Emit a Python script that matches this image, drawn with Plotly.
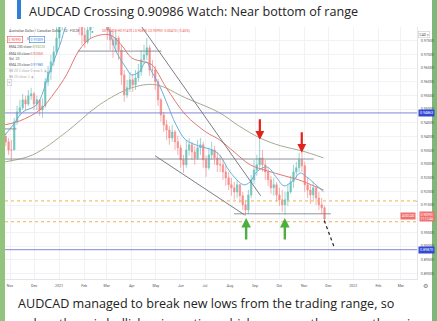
import pandas as pd
import plotly.graph_objects as go

W, H = 437, 321

# ---------------- data (AUDCAD, two bars per week, Oct 2020 - Nov 2021) ----------------
first_open = 0.9400
closes = [
    0.9381, 0.9351,  # Oct 26
    0.9351, 0.9454,  # Nov 2
    0.9490, 0.9505,
    0.9534, 0.9519,
    0.9549, 0.9556,
    0.9519, 0.9534,  # Nov 30
    0.9497, 0.9512,
    0.9600, 0.9636,
    0.9673, 0.9709,
    0.9760, 0.9826,  # Dec 28
    0.9862, 0.9881,
    0.9917, 0.9899,
    0.9881, 0.9862,
    0.9826, 0.9771,  # Jan 25
    0.9746, 0.9789,
    0.9819, 0.9844,
    0.9881, 0.9899,
    0.9936, 0.9844,  # Feb 22
    0.9789, 0.9753,
    0.9735, 0.9760,
    0.9716, 0.9625,
    0.9552, 0.9578,
    0.9607, 0.9589,  # Mar 29
    0.9614, 0.9636,
    0.9680, 0.9698,
    0.9724, 0.9643,
    0.9643, 0.9600,  # Apr 26
    0.9534, 0.9479,
    0.9443, 0.9424,
    0.9395, 0.9417,
    0.9381, 0.9359,
    0.9315, 0.9297,  # May 31
    0.9351, 0.9370,
    0.9344, 0.9322,
    0.9359, 0.9370,
    0.9315, 0.9286,  # Jun 28
    0.9333, 0.9351,
    0.9322, 0.9297,
    0.9297, 0.9271,
    0.9249, 0.9224,  # Jul 26
    0.9213, 0.9198,
    0.9224, 0.9184,
    0.9151, 0.9132,
    0.9187, 0.9242,
    0.9278, 0.9297,  # Aug 30
    0.9322, 0.9297,
    0.9271, 0.9242,
    0.9213, 0.9224,
    0.9187, 0.9169,  # Sep 27
    0.9151, 0.9169,
    0.9198, 0.9235,
    0.9271, 0.9286,
    0.9315, 0.9293,  # Oct 25
    0.9224, 0.9205,
    0.9187, 0.9213,
    0.9176, 0.9151,
    0.9140, 0.9099,  # Nov 22
]
highs = [
    0.9414, 0.9395,
    0.9388, 0.9468,
    0.9512, 0.9534,
    0.9556, 0.9549,
    0.9570, 0.9578,
    0.9563, 0.9549,
    0.9534, 0.9541,
    0.9614, 0.9658,
    0.9698, 0.9731,
    0.9808, 0.9862,
    0.9899, 0.9917,
    0.9954, 0.9936,
    0.9928, 0.9899,
    0.9881, 0.9844,
    0.9797, 0.9826,
    0.9862, 0.9881,
    0.9936, 0.9943,
    0.9972, 0.9954,
    0.9855, 0.9808,
    0.9782, 0.9789,
    0.9768, 0.9735,
    0.9643, 0.9607,
    0.9636, 0.9629,
    0.9643, 0.9665,
    0.9716, 0.9735,
    0.9760, 0.9735,
    0.9680, 0.9658,
    0.9610, 0.9541,
    0.9490, 0.9461,
    0.9439, 0.9443,
    0.9424, 0.9403,
    0.9370, 0.9333,
    0.9388, 0.9395,
    0.9381, 0.9366,
    0.9388, 0.9395,
    0.9381, 0.9330,
    0.9359, 0.9381,
    0.9366, 0.9344,
    0.9333, 0.9315,
    0.9293, 0.9271,
    0.9249, 0.9235,
    0.9242, 0.9227,
    0.9198, 0.9169,
    0.9205, 0.9260,
    0.9315, 0.9333,
    0.9388, 0.9351,
    0.9315, 0.9286,
    0.9257, 0.9249,
    0.9235, 0.9213,
    0.9205, 0.9198,
    0.9227, 0.9257,
    0.9297, 0.9308,
    0.9341, 0.9344,
    0.9308, 0.9249,
    0.9224, 0.9235,
    0.9220, 0.9198,
    0.9176, 0.9147,
]
lows = [
    0.9366, 0.9333,
    0.9308, 0.9351,
    0.9443, 0.9476,
    0.9497, 0.9497,
    0.9512, 0.9534,
    0.9497, 0.9497,
    0.9476, 0.9468,
    0.9505, 0.9585,
    0.9607, 0.9658,
    0.9698, 0.9735,
    0.9789, 0.9826,
    0.9855, 0.9844,
    0.9833, 0.9819,
    0.9771, 0.9735,
    0.9724, 0.9738,
    0.9760, 0.9797,
    0.9826, 0.9844,
    0.9881, 0.9808,
    0.9753, 0.9716,
    0.9687, 0.9709,
    0.9680, 0.9589,
    0.9527, 0.9541,
    0.9563, 0.9563,
    0.9570, 0.9600,
    0.9622, 0.9665,
    0.9680, 0.9622,
    0.9614, 0.9570,
    0.9512, 0.9454,
    0.9417, 0.9388,
    0.9370, 0.9381,
    0.9351, 0.9333,
    0.9286, 0.9267,
    0.9286, 0.9330,
    0.9315, 0.9297,
    0.9315, 0.9333,
    0.9286, 0.9253,
    0.9278, 0.9315,
    0.9297, 0.9271,
    0.9271, 0.9242,
    0.9220, 0.9205,
    0.9184, 0.9169,
    0.9176, 0.9158,
    0.9132, 0.9111,
    0.9118, 0.9176,
    0.9227, 0.9257,
    0.9286, 0.9271,
    0.9242, 0.9220,
    0.9191, 0.9184,
    0.9162, 0.9147,
    0.9125, 0.9114,
    0.9147, 0.9191,
    0.9213, 0.9249,
    0.9271, 0.9271,
    0.9198, 0.9176,
    0.9154, 0.9169,
    0.9151, 0.9132,
    0.9118, 0.9089,
]

ema200_dates = ["2020-10-26", "2020-11-29", "2021-01-10", "2021-02-20", "2021-04-01", "2021-05-01",
                "2021-06-07", "2021-07-19", "2021-08-12", "2021-09-07", "2021-10-03", "2021-10-29", "2021-11-25"]
ema200_vals = [0.9308, 0.9333, 0.9417, 0.9516, 0.9578, 0.9589, 0.9541, 0.9487, 0.9439, 0.9395, 0.9366, 0.9348, 0.9322]

ema50_dates = ["2020-10-26", "2020-11-13", "2020-12-08", "2020-12-27", "2021-01-10", "2021-01-26", "2021-02-10",
               "2021-03-05", "2021-03-19", "2021-04-01", "2021-04-16", "2021-04-26", "2021-05-14", "2021-06-07",
               "2021-07-02", "2021-07-19", "2021-08-06", "2021-08-26", "2021-09-16", "2021-10-07", "2021-10-25",
               "2021-11-13", "2021-11-25"]
ema50_vals = [0.9443, 0.9457, 0.9497, 0.9563, 0.9625, 0.9716, 0.9760, 0.9771, 0.9735, 0.9687, 0.9673, 0.9662,
              0.9578, 0.9479, 0.9417, 0.9388, 0.9344, 0.9297, 0.9275, 0.9257, 0.9242, 0.9220, 0.9205]

ema20_dates = ["2020-10-26", "2020-11-05", "2020-11-17", "2020-12-04", "2020-12-20", "2021-01-02", "2021-01-10",
               "2021-01-20", "2021-02-02", "2021-02-14", "2021-02-28", "2021-03-05", "2021-03-13", "2021-03-25",
               "2021-04-01", "2021-04-10", "2021-04-19", "2021-04-26", "2021-05-05", "2021-05-14", "2021-05-26",
               "2021-06-07", "2021-06-23", "2021-07-10", "2021-07-19", "2021-08-01", "2021-08-18", "2021-08-26",
               "2021-09-03", "2021-09-16", "2021-09-28", "2021-10-07", "2021-10-19", "2021-10-27", "2021-11-04",
               "2021-11-17", "2021-11-25"]
ema20_vals = [0.9406, 0.9443, 0.9490, 0.9516, 0.9636, 0.9735, 0.9808, 0.9855, 0.9826, 0.9855, 0.9819, 0.9779,
              0.9709, 0.9651, 0.9625, 0.9636, 0.9673, 0.9636, 0.9589, 0.9527, 0.9443, 0.9388, 0.9366, 0.9351,
              0.9333, 0.9271, 0.9224, 0.9235, 0.9271, 0.9289, 0.9249, 0.9220, 0.9242, 0.9267, 0.9253, 0.9220, 0.9198]

x_tick_dates = ["2020-11-01", "2020-12-01", "2021-01-01", "2021-02-01", "2021-03-01", "2021-04-01",
                "2021-05-01", "2021-06-01", "2021-07-01", "2021-08-01", "2021-09-01", "2021-10-01",
                "2021-11-01", "2021-12-01", "2022-01-01", "2022-02-01", "2022-03-01"]
x_tick_labels = ["Nov", "Dec", "2021", "Feb", "Mar", "Apr", "May", "Jun", "Jul", "Aug", "Sep", "Oct",
                 "Nov", "Dec", "2022", "Feb", "Mar"]
y_tick_vals = [0.975, 0.970, 0.965, 0.960, 0.955, 0.950, 0.945, 0.940, 0.935, 0.930,
               0.925, 0.920, 0.915, 0.910, 0.905, 0.900, 0.895, 0.890]
y_tick_labels = [f"{v:.5f}" for v in y_tick_vals]

x_range = ["2020-10-25 19:00", "2022-03-21"]
y_range = [0.8880, 0.9800]

# drawn levels and tools
range_top = 0.94863
range_target = 0.89870
support_level = 0.9118
mid_level = 0.9318
feb_level = 0.9712
nov_level = 0.9428
orange_levels = [0.9165, 0.9089]
upper_trend = ["2021-04-10", 0.9815, "2021-09-08", 0.9184]
lower_trend = ["2021-04-30", 0.9330, "2021-08-19", 0.9114]
support_span = ["2021-08-06", "2021-12-04"]
mid_span = ["2020-10-25", "2021-11-13"]
feb_span = ["2021-01-24", "2021-05-08"]
nov_span = ["2020-10-25", "2020-11-09"]
red_arrow_tips = [("2021-09-07", 0.9388), ("2021-10-29", 0.9341)]
green_arrow_tips = [("2021-08-21", 0.9103), ("2021-10-08", 0.9103)]
projection = ["2021-11-26", 0.9093, "2021-12-08", 0.8998]
ask_price = 0.91009

# ---------------- figure ----------------
opens = [first_open] + closes[:-1]
highs_c = [max(h, o, c) for h, o, c in zip(highs, opens, closes)]
lows_c = [min(l, o, c) for l, o, c in zip(lows, opens, closes)]
mondays = pd.date_range("2020-10-26", periods=len(closes) // 2, freq="7D")
dates = []
for m in mondays:
    dates.append(m + pd.Timedelta(hours=18))
    dates.append(m + pd.Timedelta(hours=102))

UP, DN = "#26a69a", "#ef5350"
fig = go.Figure()
fig.add_trace(go.Candlestick(
    x=dates, open=opens, high=highs_c, low=lows_c, close=closes,
    increasing=dict(line=dict(color=UP, width=0.7), fillcolor=UP),
    decreasing=dict(line=dict(color=DN, width=0.7), fillcolor=DN),
    opacity=0.65, whiskerwidth=0, showlegend=False, hoverinfo="skip"))
for dts, vals, col in [(ema200_dates, ema200_vals, "#a8aa90"),
                       (ema50_dates, ema50_vals, "#e07a74"),
                       (ema20_dates, ema20_vals, "#6aaede")]:
    fig.add_trace(go.Scatter(x=dts, y=vals, mode="lines", line=dict(color=col, width=1, shape="spline", smoothing=1.0),
                             showlegend=False, hoverinfo="skip"))


def px(x):
    return x / W


def py(y):
    return 1 - y / H


shapes = []
# page background strips
shapes.append(dict(type="rect", xref="paper", yref="paper", x0=0, x1=px(5), y0=0, y1=1,
                   fillcolor="#93c47d", line_width=0, layer="below"))
shapes.append(dict(type="rect", xref="paper", yref="paper", x0=px(432), x1=1, y0=0, y1=1,
                   fillcolor="#7fb77a", line_width=0, layer="below"))
# title bar
shapes.append(dict(type="rect", xref="paper", yref="paper", x0=px(17), x1=px(21), y0=py(19), y1=1,
                   fillcolor="#2f7fd6", line_width=0))
# horizontal levels
for lv, col in [(range_top, "#8686d8"), (range_target, "#8686d8")]:
    shapes.append(dict(type="line", xref="x", yref="y", x0=x_range[0], x1=x_range[1], y0=lv, y1=lv,
                       line=dict(color=col, width=1)))
for lv in orange_levels:
    shapes.append(dict(type="line", xref="x", yref="y", x0=x_range[0], x1=x_range[1], y0=lv, y1=lv,
                       line=dict(color="#f2b04f", width=1, dash="dot")))
for span, lv in [(support_span, support_level), (mid_span, mid_level), (feb_span, feb_level), (nov_span, nov_level)]:
    shapes.append(dict(type="line", xref="x", yref="y", x0=span[0], x1=span[1], y0=lv, y1=lv,
                       line=dict(color="#858790", width=0.9)))
for t in [upper_trend, lower_trend]:
    shapes.append(dict(type="line", xref="x", yref="y", x0=t[0], y0=t[1], x1=t[2], y1=t[3],
                       line=dict(color="#6d6f77", width=0.9)))
shapes.append(dict(type="line", xref="x", yref="y", x0=projection[0], y0=projection[1], x1=projection[2],
                   y1=projection[3], line=dict(color="#222", width=1.2, dash="dot")))

ann = []
F = "Roboto"
ann.append(dict(x=px(27), y=py(11), xref="paper", yref="paper", xanchor="left", yanchor="middle",
                text="AUDCAD Crossing 0.90986 Watch: Near bottom of range", showarrow=False,
                font=dict(family="Open Sans", size=12.6, color="#222")))
ann.append(dict(x=px(16), y=py(303), xref="paper", yref="paper", xanchor="left", yanchor="middle",
                text="AUDCAD managed to break new lows from the trading range, so", showarrow=False,
                font=dict(family="Open Sans", size=12.6, color="#222")))
ann.append(dict(x=px(16), y=py(323), xref="paper", yref="paper", xanchor="left", yanchor="middle",
                text="unless there is bullish price action which reverses the move, there is", showarrow=False,
                font=dict(family="Open Sans", size=12.6, color="#222")))

# arrows
for d, p in red_arrow_tips:
    ann.append(dict(x=d, y=p, xref="x", yref="y", ax=0, ay=-22, text="", showarrow=True,
                    arrowhead=2, arrowsize=0.8, arrowwidth=2.2, arrowcolor="#e0231c"))
for d, p in green_arrow_tips:
    ann.append(dict(x=d, y=p, xref="x", yref="y", ax=0, ay=23, text="", showarrow=True,
                    arrowhead=2, arrowsize=0.8, arrowwidth=2.4, arrowcolor="#4caf3f"))
ann.append(dict(x=projection[2], y=projection[3], xref="x", yref="y", axref="x", ayref="y",
                ax="2021-12-06", ay=0.9010, text="", showarrow=True, arrowhead=5, arrowsize=1,
                arrowwidth=1, arrowcolor="#222"))

# legend block (top-left)
LF = 3.4
O, Hh, L, C = opens[-1], highs_c[-1], lows_c[-1], closes[-1]
chg = C - closes[-2]
rows = [
    (31, 7, "Australian Dollar / Canadian Dollar · 1D · FXCM", "#555"),
    (31, 100, f"O{O:.5f} H{Hh:.5f} L{L:.5f} C{C:.5f} {chg:+.5f} ({chg / closes[-2] * 100:+.2f}%)", DN),
    (46.7, 7, f"EMA 200 close <span style='color:#8d9a55'>{ema200_vals[-1]:.5f}</span>", "#555"),
    (54, 7, f"EMA 50 close <span style='color:{DN}'>{ema50_vals[-1]:.5f}</span>", "#555"),
    (59.3, 7, "Vol  20", "#555"),
    (65, 7, f"EMA 20 close <span style='color:#2f7fd6'>{ema20_vals[-1]:.5f}</span>", "#555"),
    (71, 7, "BB 20 2 close 0 sma 5  ◉", "#b0b0b0"),
    (76.7, 7, "BB 20 close 2  ◉", "#b0b0b0"),
]
for yy, xx, t, col in rows:
    ann.append(dict(x=px(xx), y=py(yy), xref="paper", yref="paper", xanchor="left", yanchor="middle",
                    text=t, showarrow=False, font=dict(family=F, size=LF, color=col)))
ann.append(dict(x=px(92), y=py(31), xref="paper", yref="paper", xanchor="center", yanchor="middle",
                text="●", showarrow=False, font=dict(size=4, color=UP)))
ann.append(dict(x=px(7), y=py(39), xref="paper", yref="paper", xanchor="left", yanchor="middle",
                text=f"{C:.5f}", showarrow=False, font=dict(family=F, size=LF, color=DN),
                bordercolor=DN, borderwidth=0.6, borderpad=1, bgcolor="white"))
ann.append(dict(x=px(25), y=py(39), xref="paper", yref="paper", xanchor="left", yanchor="middle",
                text="0.0", showarrow=False, font=dict(family=F, size=LF, color="#555")))
ann.append(dict(x=px(29), y=py(39), xref="paper", yref="paper", xanchor="left", yanchor="middle",
                text=f"{ask_price:.5f}", showarrow=False, font=dict(family=F, size=LF, color="#2f7fd6"),
                bordercolor="#2f7fd6", borderwidth=0.6, borderpad=1, bgcolor="white"))
ann.append(dict(x=px(7), y=py(82.5), xref="paper", yref="paper", xanchor="left", yanchor="middle",
                text="^", showarrow=False, font=dict(family=F, size=LF, color="#555"),
                bordercolor="#ccc", borderwidth=0.6, borderpad=1))

# axis-side labels
ann.append(dict(x=px(418), y=py(34), xref="paper", yref="paper", xanchor="left", yanchor="middle",
                text="CAD ▾", showarrow=False, font=dict(family=F, size=3.2, color="#444"),
                bordercolor="#ccc", borderwidth=0.6, borderpad=1))
for lv in [range_top, range_target]:
    ann.append(dict(x=px(418), y=lv, xref="paper", yref="y", xanchor="left", yanchor="middle",
                    text=f"{lv:.5f}", showarrow=False, font=dict(family=F, size=3.6, color="white"),
                    bgcolor="#3347d6", borderpad=1))
ann.append(dict(x=px(416), y=0.9110, xref="paper", yref="y", xanchor="right", yanchor="middle",
                text="AUDCAD", showarrow=False, font=dict(family=F, size=3.2, color="white"),
                bgcolor="#f07070", borderpad=1))
ann.append(dict(x=px(418.5), y=0.9110, xref="paper", yref="y", xanchor="left", yanchor="middle",
                text=f"{C:.5f}<br>11:12:44", showarrow=False, font=dict(family=F, size=3.2, color="white"),
                bgcolor="#f07070", borderpad=0.5))
ann.append(dict(x=px(417), y=orange_levels[0], xref="paper", yref="y", xanchor="center", yanchor="middle",
                text="●", showarrow=False, font=dict(size=3, color="#f2a33a")))
ann.append(dict(x=px(425), y=py(286), xref="paper", yref="paper", xanchor="center", yanchor="middle",
                text="⚙", showarrow=False, font=dict(size=6, color="#777")))

fig.update_layout(
    width=W, height=H, margin=dict(l=0, r=0, t=0, b=0),
    paper_bgcolor="white", plot_bgcolor="white",
    shapes=shapes, annotations=ann, showlegend=False,
    xaxis=dict(type="date", domain=[px(5), px(417)], range=x_range, rangeslider=dict(visible=False),
               tickvals=x_tick_dates, ticktext=x_tick_labels, tickfont=dict(family=F, size=3.6, color="#555"),
               showgrid=True, gridcolor="#f0f2f6", gridwidth=1, ticks="", showline=True, linecolor="#e3e5ea",
               linewidth=1, zeroline=False, ticklabelstandoff=3),
    yaxis=dict(domain=[py(279), py(27)], range=y_range, side="right", tickvals=y_tick_vals,
               ticktext=y_tick_labels, tickfont=dict(family=F, size=3.6, color="#555"),
               showgrid=True, gridcolor="#f0f2f6", gridwidth=1, ticks="", showline=True, linecolor="#e3e5ea",
               linewidth=1, zeroline=False, ticklabelstandoff=2),
)
fig.write_html("out.html")
